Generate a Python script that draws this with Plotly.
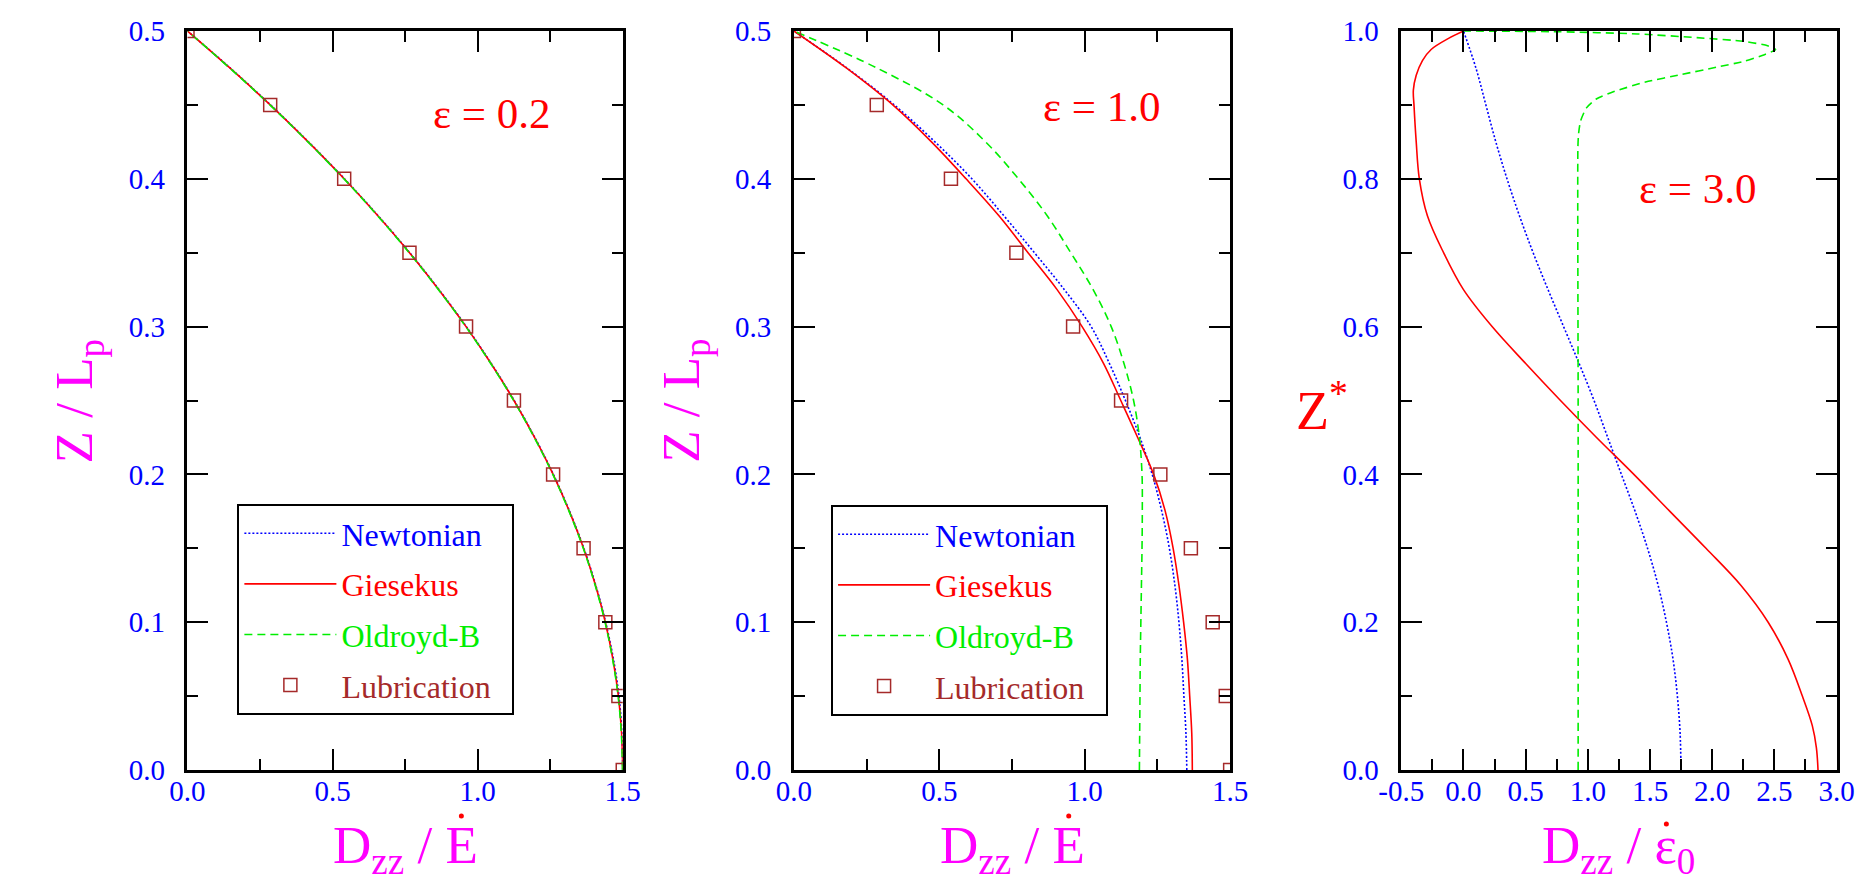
import plotly.graph_objects as go

FONT = "Liberation Serif, Times New Roman, serif"
W, H = 1871, 879
TOP, BOT = 23, 762  # plot area in pixels (y)

# ---------------- data ----------------
# Panel 1 (eps = 0.2): Z/Lp grid and D_zz/E values
z_grid = [0.0, 0.025, 0.05, 0.075, 0.1, 0.125, 0.15, 0.175, 0.2, 0.225, 0.25,
          0.275, 0.3, 0.325, 0.35, 0.375, 0.4, 0.425, 0.45, 0.475, 0.5]
newt1 = [1.500, 1.497, 1.487, 1.468, 1.441, 1.407, 1.366, 1.317, 1.261, 1.197, 1.126,
         1.047, 0.961, 0.867, 0.766, 0.657, 0.541, 0.417, 0.286, 0.147, 0.000]
gies1 = [1.500, 1.496, 1.485, 1.466, 1.440, 1.406, 1.365, 1.316, 1.260, 1.196, 1.125,
         1.046, 0.960, 0.866, 0.765, 0.656, 0.540, 0.416, 0.285, 0.146, 0.000]
oldb1 = [1.499, 1.495, 1.484, 1.465, 1.439, 1.405, 1.364, 1.315, 1.259, 1.195, 1.124,
         1.045, 0.959, 0.865, 0.764, 0.655, 0.539, 0.415, 0.284, 0.145, 0.000]

# Lubrication squares (same in panels 1 and 2)
lub_z = [0.0, 0.05, 0.1, 0.15, 0.2, 0.25, 0.3, 0.35, 0.4, 0.45, 0.5]
lub_x = [1.500, 1.485, 1.440, 1.365, 1.260, 1.125, 0.960, 0.765, 0.540, 0.285, 0.000]

# Panel 2 (eps = 1.0)
newt2 = [1.351, 1.348, 1.341, 1.334, 1.324, 1.310, 1.291, 1.265, 1.232, 1.190, 1.140,
         1.085, 1.022, 0.930, 0.827, 0.722, 0.612, 0.485, 0.345, 0.182, 0.000]
gies2 = [1.370, 1.368, 1.361, 1.353, 1.340, 1.324, 1.304, 1.277, 1.237, 1.182, 1.124,
         1.065, 0.991, 0.905, 0.805, 0.705, 0.592, 0.473, 0.340, 0.180, 0.000]
oldb2 = [1.188, 1.189, 1.190, 1.191, 1.193, 1.195, 1.197, 1.198, 1.197, 1.188, 1.168,
         1.135, 1.091, 1.029, 0.952, 0.871, 0.772, 0.659, 0.513, 0.285, 0.000]

# Panel 3 (eps = 3.0): Z* and D_zz/eps0
newt3_z = [0.0, 0.05, 0.1, 0.15, 0.2, 0.25, 0.3, 0.35, 0.4, 0.45, 0.5, 0.55,
           0.6, 0.65, 0.7, 0.75, 0.8, 0.85, 0.9, 0.95, 1.0]
newt3_x = [1.749, 1.742, 1.720, 1.685, 1.632, 1.565, 1.480, 1.380, 1.270, 1.160, 1.050,
           0.930, 0.805, 0.680, 0.560, 0.450, 0.350, 0.260, 0.180, 0.100, 0.0]

gies3_z = [0.0, 0.03, 0.06, 0.1, 0.15, 0.2, 0.25, 0.3, 0.35, 0.4, 0.45, 0.5, 0.55, 0.6,
           0.65, 0.7, 0.75, 0.8, 0.85, 0.9, 0.92, 0.94, 0.96, 0.975, 0.99, 1.0]
gies3_x = [2.851, 2.838, 2.805, 2.725, 2.610, 2.450, 2.230, 1.950, 1.660, 1.370, 1.070,
           0.780, 0.500, 0.230, 0.000, -0.160, -0.290, -0.355, -0.380, -0.398, -0.403,
           -0.380, -0.330, -0.260, -0.120, 0.0]

oldb3_z = [0.0, 0.5, 0.842, 0.860, 0.878, 0.896, 0.908, 0.918, 0.931, 0.941, 0.951,
           0.959, 0.968, 0.975, 0.980, 0.986, 0.991, 0.996, 0.999, 1.0]
oldb3_x = [0.922, 0.922, 0.920, 0.925, 0.941, 0.989, 1.068, 1.210, 1.464, 1.749, 2.034,
           2.256, 2.420, 2.510, 2.446, 2.256, 1.876, 1.400, 0.767, 0.0]

x3_tickvals = [-0.5, 0.0, 0.5, 1.0, 1.5, 2.0, 2.5, 3.0]
x3_ticktext = ["-0.5", "0.0", "0.5", "1.0", "1.5", "2.0", "2.5", "3.0"]

eps_labels = ["ε = 0.2", "ε = 1.0", "ε = 3.0"]
series_names = ["Newtonian", "Giesekus", "Oldroyd-B", "Lubrication"]
series_colors = ["#0000ff", "#ff0000", "#00ee00", "#a52a2a"]

# ---------------- layout helpers ----------------
def pxx(X):
    return X / W

def pxy(Y):
    return (BOT - Y) / (BOT - TOP)

domains = [(160, 605), (780, 1226), (1401, 1846)]

fig = go.Figure()

def name_html(i):
    pad = "&nbsp;&nbsp;" if i == 3 else ""
    return f"<span style='color:{series_colors[i]}'>{series_names[i]}</span>{pad}"

line_styles = [dict(color=series_colors[0], width=1.6, dash="2px,2px", shape="spline", smoothing=1.0),
               dict(color=series_colors[1], width=1.6, shape="spline", smoothing=1.0),
               dict(color=series_colors[2], width=1.6, dash="8px,5px", shape="spline", smoothing=1.0)]

# panels 1 and 2
for p, (nw, gs, ob, leg) in enumerate([(newt1, gies1, oldb1, "legend"),
                                       (newt2, gies2, oldb2, "legend2")]):
    xa = "x" if p == 0 else "x2"
    ya = "y" if p == 0 else "y2"
    for i, xs in enumerate([nw, gs, ob]):
        fig.add_trace(go.Scatter(x=xs, y=z_grid, mode="lines", name=name_html(i),
                                 line=line_styles[i], xaxis=xa, yaxis=ya, legend=leg,
                                 legendgroup=f"p{p}g{i}"))
    fig.add_trace(go.Scatter(x=lub_x, y=lub_z, mode="markers", name=name_html(3),
                             marker=dict(symbol="square-open", size=13,
                                         color=series_colors[3], line=dict(width=1.5)),
                             xaxis=xa, yaxis=ya, legend=leg, legendgroup=f"p{p}g3"))

# panel 3
for i, (xs, zs) in enumerate([(newt3_x, newt3_z), (gies3_x, gies3_z), (oldb3_x, oldb3_z)]):
    ls = dict(line_styles[i])
    if i == 2:
        ls["smoothing"] = 0.6
    fig.add_trace(go.Scatter(x=xs, y=zs, mode="lines", line=ls,
                             xaxis="x3", yaxis="y3", showlegend=False))

def axis_common():
    return dict(showgrid=False, zeroline=False, showline=True, linecolor="black",
                linewidth=2.5, mirror="allticks", ticks="inside", ticklen=21,
                tickwidth=2, tickcolor="black", tickformat=".1f",
                tickfont=dict(family=FONT, size=29, color="#0000ff"))

xr = [[0, 1.5], [0, 1.5], [-0.5, 3.0]]
yr = [[0, 0.5], [0, 0.5], [0, 1.0]]
xd = [0.5, 0.5, 0.5]
yd = [0.1, 0.1, 0.2]
for k in range(3):
    sfx = "" if k == 0 else str(k + 1)
    xa = axis_common()
    xa.update(domain=[pxx(domains[k][0]), pxx(domains[k][1])], range=xr[k],
              anchor="y" + sfx, tick0=0, dtick=xd[k], ticklabelstandoff=-7,
              minor=dict(dtick=xd[k] / 2, tick0=0, ticks="inside", ticklen=11,
                         tickwidth=2, tickcolor="black", showgrid=False))
    if k == 2:
        xa.update(tickmode="array", tickvals=x3_tickvals, ticktext=x3_ticktext)
    ya = axis_common()
    ya.update(domain=[0, 1], range=yr[k], anchor="x" + sfx, tick0=0, dtick=yd[k],
              ticklabelstandoff=14,
              minor=dict(dtick=yd[k] / 2, tick0=0, ticks="inside", ticklen=11,
                         tickwidth=2, tickcolor="black", showgrid=False))
    fig.layout["xaxis" + sfx] = xa
    fig.layout["yaxis" + sfx] = ya

annotations = []
# epsilon labels (data coords)
eps_pos = [(1.05, 0.444), (1.058, 0.449), (1.888, 0.787)]
for k in range(3):
    sfx = "" if k == 0 else str(k + 1)
    annotations.append(dict(text=eps_labels[k], x=eps_pos[k][0], y=eps_pos[k][1],
                            xref="x" + sfx, yref="y" + sfx, showarrow=False,
                            font=dict(family=FONT, size=43, color="#ff0000")))

MAG = "#ff00ff"
# y titles for panels 1,2
for k in range(2):
    annotations.append(dict(text="Z / L<sub>p</sub>", textangle=-90,
                            x=pxx(domains[k][0] - 112), y=0.5, xref="paper", yref="paper",
                            xanchor="center", yanchor="middle", showarrow=False,
                            font=dict(family=FONT, size=53, color=MAG)))
# Z* for panel 3
annotations.append(dict(text="Z<sup>*</sup>", x=pxx(1320), y=pxy(398), xref="paper",
                        yref="paper", xanchor="center", yanchor="middle", showarrow=False,
                        font=dict(family=FONT, size=54, color="#ff0000")))
# x titles
xt = ["D<sub>zz</sub> / E", "D<sub>zz</sub> / E", "D<sub>zz</sub> / ε<sub>0</sub>"]
for k in range(3):
    c = (domains[k][0] + domains[k][1]) / 2
    annotations.append(dict(text=xt[k], x=pxx(c), y=pxy(841), xref="paper", yref="paper",
                            xanchor="center", yanchor="middle", showarrow=False,
                            font=dict(family=FONT, size=53, color=MAG)))

shapes = []
dots = [(440, 808), (1061, 808), (1672, 816)]
for (dx, dy) in dots:
    shapes.append(dict(type="circle", xref="paper", yref="paper", xsizemode="pixel",
                       ysizemode="pixel", xanchor=pxx(dx), yanchor=pxy(dy),
                       x0=-2.5, x1=2.5, y0=-2.5, y1=2.5,
                       fillcolor="#ff0000", line=dict(width=0)))

leg_common = dict(xanchor="left", yanchor="top", bordercolor="black", borderwidth=2,
                  bgcolor="white", font=dict(family=FONT, size=32), itemwidth=92,
                  traceorder="grouped", tracegroupgap=6)
fig.update_layout(
    width=W, height=H, autosize=False,
    margin=dict(l=0, r=0, t=TOP, b=H - BOT, pad=0),
    paper_bgcolor="white", plot_bgcolor="white",
    showlegend=True,
    legend=dict(x=pxx(211), y=pxy(496), **leg_common),
    legend2=dict(x=pxx(818), y=pxy(497), **leg_common),
    annotations=annotations, shapes=shapes,
)

fig.write_html("out.html")
